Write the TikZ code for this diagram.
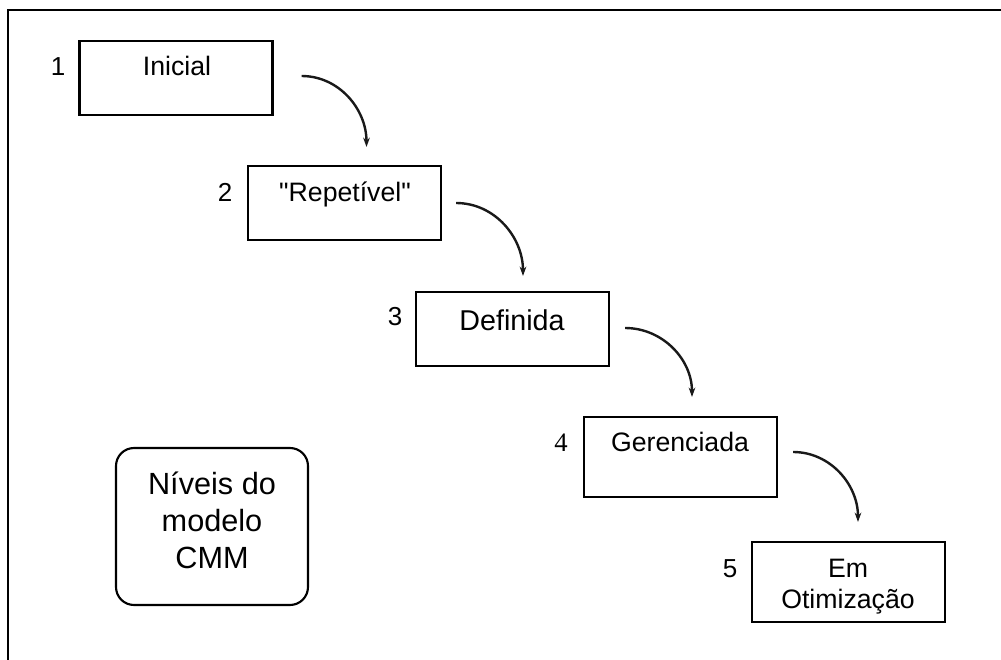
\documentclass[tikz,border=0pt]{standalone}
\usepackage{fontspec}
\setmainfont{Liberation Sans}
\newfontfamily\serifnum{Liberation Serif}
\usetikzlibrary{arrows.meta,calc}
\begin{document}
\begin{tikzpicture}[x=0.75pt,y=-0.75pt,
  levelbox/.style={draw, line width=1.6pt, inner sep=0pt,
    minimum width=144.75pt, minimum height=55.5pt},
  tallbox/.style={levelbox, minimum height=60pt},
  boxtext/.style={anchor=base, inner sep=0pt, font=\fontsize{20}{24}\selectfont},
  numlabel/.style={anchor=base, inner sep=0pt, font=\fontsize{19.5}{23}\selectfont},
  bigtext/.style={anchor=base, inner sep=0pt, font=\fontsize{23}{28}\selectfont},
  flow/.style={line width=1.8pt, black!90, -{Stealth[length=7pt,width=5pt]}}]

\useasboundingbox (0,0) rectangle (1001,660);
\fill[white] (0,0) rectangle (1001,660);

% outer frame (left and top edges)
\draw[line width=1.6pt] (8,660) -- (8,10) -- (1001,10);

% the five maturity levels
\node[levelbox] (b1) at (176,78) {};
\node[levelbox] (b2) at (344.5,203) {};
\node[levelbox] (b3) at (512.5,329) {};
\node[tallbox]  (b4) at (680.5,457) {};
\node[tallbox]  (b5) at (848.5,582) {};

\node[boxtext] (t1) at (177,76) {Inicial};
\node[boxtext] (t2) at (345,201) {\textquotedbl Repetível\textquotedbl};
\node[boxtext, font=\fontsize{21.5}{26}\selectfont] (t3) at (512,330) {Definida};
\node[boxtext] (t4) at (680,451) {Gerenciada};
\node[boxtext] (t5a) at (848,577) {Em};
\node[boxtext] (t5b) at (848,608) {Otimização};

\node[numlabel] (n1) at (58,76) {1};
\node[numlabel] (n2) at (225,201) {2};
\node[numlabel] (n3) at (395,325) {3};
\node[numlabel, font=\serifnum\fontsize{20}{23}\selectfont] (n4) at (561,451) {4};
\node[numlabel] (n5) at (730,577) {5};

% curved transitions between levels
\draw[flow] ($(b1.east)+(28,-2)$) to[out=0, in=90] ($(b2.north)+(22,-18)$);
\draw[flow] ($(b2.east)+(14,0)$) to[out=0, in=90] ($(b3.north)+(10.5,-15)$);
\draw[flow] ($(b3.east)+(15,-1)$) to[out=0, in=90] ($(b4.north)+(11.5,-19)$);
\draw[flow] ($(b4.east)+(15,-5)$) to[out=0, in=90] ($(b5.north)+(9.5,-19)$);

% caption box
\node[draw, line width=1.6pt, rounded corners=13.5pt, inner sep=0pt,
  minimum width=144pt, minimum height=117.75pt] (cmm) at (212,526.5) {};
\node[bigtext] (c1) at (212,494) {Níveis do};
\node[bigtext] (c2) at (212,531) {modelo};
\node[bigtext] (c3) at (212,568) {CMM};
\end{tikzpicture}
\end{document}
